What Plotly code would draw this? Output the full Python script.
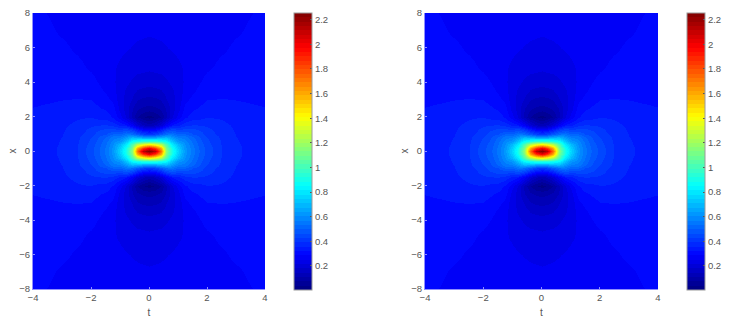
import plotly.graph_objects as go

t_half = [0, 0.2, 0.4, 0.6, 0.8, 1, 1.25, 1.5, 1.75, 2, 2.5, 3, 3.5, 4]
x_half = [0, 0.2, 0.4, 0.6, 0.8, 1, 1.25, 1.5, 2, 2.5, 3, 3.5, 4, 5, 6, 7, 8]
# one list per t value, running over x_half
amp_t00 = [2.25, 2.0, 1.4, .95, .62, .41, .26, .13, .025, .1, .135, .168, .193, .228, .243, .255, .265]
amp_t02 = [2.12, 1.85, 1.33, .93, .63, .43, .28, .15, .045, .105, .14, .17, .197, .23, .245, .256, .265]
amp_t04 = [1.72, 1.58, 1.22, .9, .66, .48, .33, .2, .08, .12, .15, .178, .2, .233, .247, .257, .266]
amp_t06 = [1.15, 1.12, 1.0, .85, .68, .53, .4, .27, .14, .15, .18, .195, .21, .237, .25, .258, .266]
amp_t08 = [.9, .88, .81, .72, .62, .54, .44, .33, .21, .2, .205, .21, .225, .243, .253, .26, .267]
amp_t10 = [.76, .74, .69, .62, .56, .5, .42, .35, .265, .235, .23, .235, .238, .248, .256, .262, .268]
amp_t125 = [.62, .615, .6, .58, .55, .5, .43, .38, .315, .3, .275, .26, .256, .254, .26, .264, .27]
amp_t15 = [.545, .54, .53, .52, .5, .46, .43, .395, .34, .315, .298, .28, .27, .258, .262, .266, .27]
amp_t175 = [.49, .488, .48, .47, .46, .445, .42, .39, .345, .325, .31, .298, .285, .27, .268, .268, .27]
amp_t20 = [.45, .448, .44, .435, .425, .41, .4, .385, .355, .335, .32, .31, .298, .278, .272, .27, .27]
amp_t25 = [.39, .39, .388, .386, .383, .378, .372, .365, .352, .335, .322, .312, .305, .295, .28, .272, .27]
amp_t30 = [.362, .362, .36, .359, .357, .355, .352, .35, .342, .33, .32, .312, .306, .298, .294, .28, .272]
amp_t35 = [.348, .348, .347, .346, .345, .344, .342, .34, .335, .326, .317, .31, .305, .298, .295, .293, .285]
amp_t40 = [.34, .34, .339, .338, .338, .337, .335, .333, .328, .322, .314, .308, .303, .298, .296, .295, .294]
x_ticks = [-4, -2, 0, 2, 4]
y_ticks = [-8, -6, -4, -2, 0, 2, 4, 6, 8]
cb_ticks = [0.2, 0.4, 0.6, 0.8, 1, 1.2, 1.4, 1.6, 1.8, 2, 2.2]
z_min, z_max = 0.005, 2.254

columns = [amp_t00, amp_t02, amp_t04, amp_t06, amp_t08, amp_t10, amp_t125, amp_t15,
           amp_t175, amp_t20, amp_t25, amp_t30, amp_t35, amp_t40]
quadrant = [list(r) for r in zip(*columns)]
t_full = [-v for v in t_half[:0:-1]] + t_half
x_full = [-v for v in x_half[:0:-1]] + x_half
rows = [r[:0:-1] + r for r in quadrant]
z_full = rows[:0:-1] + rows


def jet(f):
    def ch(c):
        return max(0.0, min(1.0, 1.5 - abs(4 * f - c)))
    return "rgb(%d,%d,%d)" % (ch(3) * 255, ch(2) * 255, ch(1) * 255)


N = 64
scale = []
for i in range(N):
    c = jet((i + 0.5) / N)
    scale.append([i / N, c])
    scale.append([(i + 1) / N, c])

W, H = 729, 324
TOP, BOTTOM = 13, 289
panels = [(33, 265, 294), (425, 658, 687)]
GREY = "#555555"
FONT = "Liberation Sans"
fig = go.Figure()
for i, (x0, x1, cbx) in enumerate(panels):
    s = "" if i == 0 else "2"
    fig.add_trace(go.Heatmap(
        x=t_full, y=x_full, z=z_full, zmin=z_min, zmax=z_max, zsmooth="best",
        colorscale=scale, xaxis="x" + s, yaxis="y" + s,
        colorbar=dict(
            x=cbx / W, xanchor="left", xpad=0, ypad=0, thickness=18, thicknessmode="pixels",
            y=1 - 290 / H, yanchor="bottom", len=277 / H, lenmode="fraction",
            tickmode="array", tickvals=cb_ticks, ticktext=[f"{v:g}" for v in cb_ticks],
            ticks="inside", ticklen=2, tickcolor="#555555",
            tickfont=dict(family=FONT, size=9.5, color=GREY),
            outlinecolor="#9a9a9a", outlinewidth=1,
        ),
    ))
    axis = dict(showgrid=False, zeroline=False, ticks="inside", ticklen=2, tickwidth=1,
                tickcolor="#8a8aff", showline=True, linecolor="#8f8fff", linewidth=1, mirror=False,
                automargin=False, tickfont=dict(family=FONT, size=9.5, color=GREY))
    fig.layout["xaxis" + s] = dict(
        axis, domain=[x0 / W, x1 / W], range=[-4, 4], anchor="y" + s,
        tickmode="array", tickvals=x_ticks,
        title=dict(text="t", standoff=6, font=dict(family=FONT, size=10, color=GREY)),
    )
    fig.layout["yaxis" + s] = dict(
        axis, domain=[1 - BOTTOM / H, 1 - TOP / H], range=[-8, 8], anchor="x" + s,
        tickmode="array", tickvals=y_ticks,
        title=dict(text="x", standoff=0, font=dict(family=FONT, size=10, color=GREY)),
    )
fig.update_layout(width=W, height=H, margin=dict(l=0, r=0, t=0, b=0, autoexpand=False),
                  paper_bgcolor="white", plot_bgcolor="white", showlegend=False)
fig.write_html("out.html", config={"displayModeBar": False},
               post_script="document.body.style.margin='0';")
